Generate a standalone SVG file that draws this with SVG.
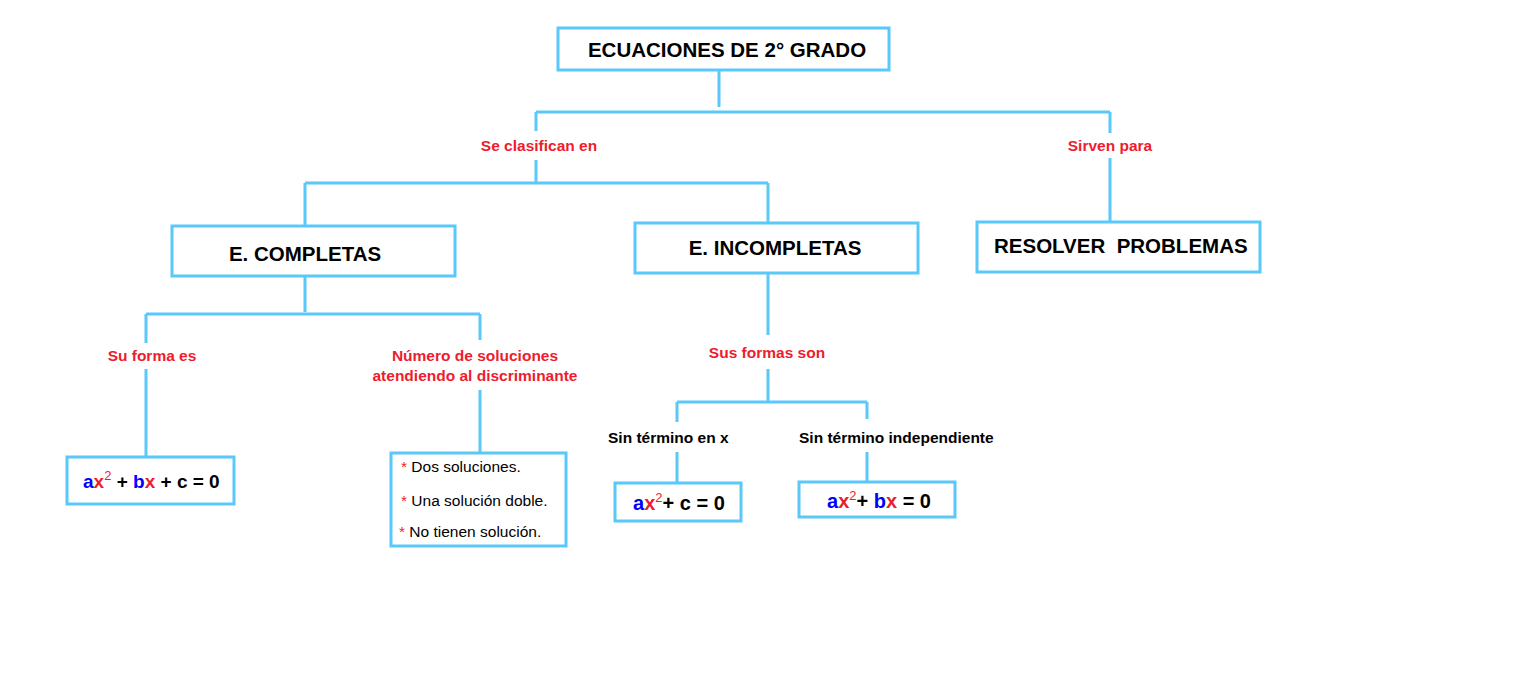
<svg xmlns="http://www.w3.org/2000/svg" width="1539" height="681" viewBox="0 0 1539 681">
<style>
.box{fill:#fff;stroke:#5AC8FA;stroke-width:3}
.ln{fill:none;stroke:#5AC8FA;stroke-width:3}
.t{font-family:"Liberation Sans",Arial,sans-serif;font-weight:bold;fill:#000}
.big{font-size:20.5px}
.lbl{font-family:"Liberation Sans",Arial,sans-serif;font-weight:bold;font-size:15.5px;fill:#EE1C2E}
.blk{font-family:"Liberation Sans",Arial,sans-serif;font-weight:bold;font-size:15.5px;fill:#000}
.f{font-family:"Liberation Sans",Arial,sans-serif;font-weight:bold;font-size:20px;fill:#000}
.b{fill:#0000FF}
.r{fill:#EE1C2E}
.sup{font-size:13px;font-weight:normal}
.s{font-family:"Liberation Sans",Arial,sans-serif;font-size:15.5px;fill:#000}
</style>
<rect width="1539" height="681" fill="#fff"/>
<g id="connectors">
<path class="ln" d="M719 71V107M536 112H1110M536 112V131M536 160V183M305 183H768M305 183V226M768 183V223M1110 112V133M1110 158V222"/>
<path class="ln" d="M305 276V312M146 314H480M146 314V343M146 369V457M480 314V340M480 390V453"/>
<path class="ln" d="M768 273V335M768 369V402M677 402H867M677 402V422M867 402V419M677 452V483M867 452V482"/>
</g>
<g id="root"><rect class="box" x="558" y="28" width="331" height="42"/><text class="t big" x="727" y="57" text-anchor="middle">ECUACIONES DE 2° GRADO</text></g>
<g id="lbl-clasifican"><text class="lbl" x="539" y="151" text-anchor="middle">Se clasifican en</text></g>
<g id="lbl-sirven"><text class="lbl" x="1110" y="151" text-anchor="middle">Sirven para</text></g>
<g id="completas"><rect class="box" x="172" y="226" width="283" height="50"/><text class="t big" x="305" y="261" text-anchor="middle">E. COMPLETAS</text></g>
<g id="incompletas"><rect class="box" x="635" y="223" width="283" height="50"/><text class="t big" x="775" y="255" text-anchor="middle">E. INCOMPLETAS</text></g>
<g id="resolver"><rect class="box" x="977" y="222" width="283" height="50"/><text class="t big" x="994" y="253" xml:space="preserve">RESOLVER  PROBLEMAS</text></g>
<g id="lbl-forma"><text class="lbl" x="152" y="361" text-anchor="middle">Su forma es</text></g>
<g id="lbl-numero"><text class="lbl" x="475" y="361" text-anchor="middle">Número de soluciones</text><text class="lbl" x="475" y="381" text-anchor="middle">atendiendo al discriminante</text></g>
<g id="lbl-formas"><text class="lbl" x="767" y="358" text-anchor="middle">Sus formas son</text></g>
<g id="lbl-sin-x"><text class="blk" x="608" y="443">Sin término en x</text></g>
<g id="lbl-sin-ind"><text class="blk" x="799" y="443">Sin término independiente</text></g>
<g id="formula-completa"><rect class="box" x="67" y="457" width="167" height="47"/><text class="f" x="83" y="488" font-size="19" style="font-size:19px"><tspan class="b">a</tspan><tspan class="r">x</tspan><tspan class="r sup" dy="-8">2</tspan><tspan dy="8"> + </tspan><tspan class="b">b</tspan><tspan class="r">x</tspan><tspan> + c = 0</tspan></text></g>
<g id="soluciones"><rect class="box" x="391" y="453" width="175" height="93"/>
<text class="s" x="401" y="472"><tspan class="r">*</tspan> Dos soluciones.</text>
<text class="s" x="401" y="506"><tspan class="r">*</tspan> Una solución doble.</text>
<text class="s" x="399" y="537"><tspan class="r">*</tspan> No tienen solución.</text></g>
<g id="formula-sin-x"><rect class="box" x="615" y="483" width="126" height="38"/><text class="f" x="633" y="510"><tspan class="b">a</tspan><tspan class="r">x</tspan><tspan class="r sup" dy="-8">2</tspan><tspan dy="8">+ c = 0</tspan></text></g>
<g id="formula-sin-ind"><rect class="box" x="799" y="482" width="156" height="35"/><text class="f" x="827" y="508"><tspan class="b">a</tspan><tspan class="r">x</tspan><tspan class="r sup" dy="-8">2</tspan><tspan dy="8">+ </tspan><tspan class="b">b</tspan><tspan class="r">x</tspan><tspan> = 0</tspan></text></g>
</svg>
